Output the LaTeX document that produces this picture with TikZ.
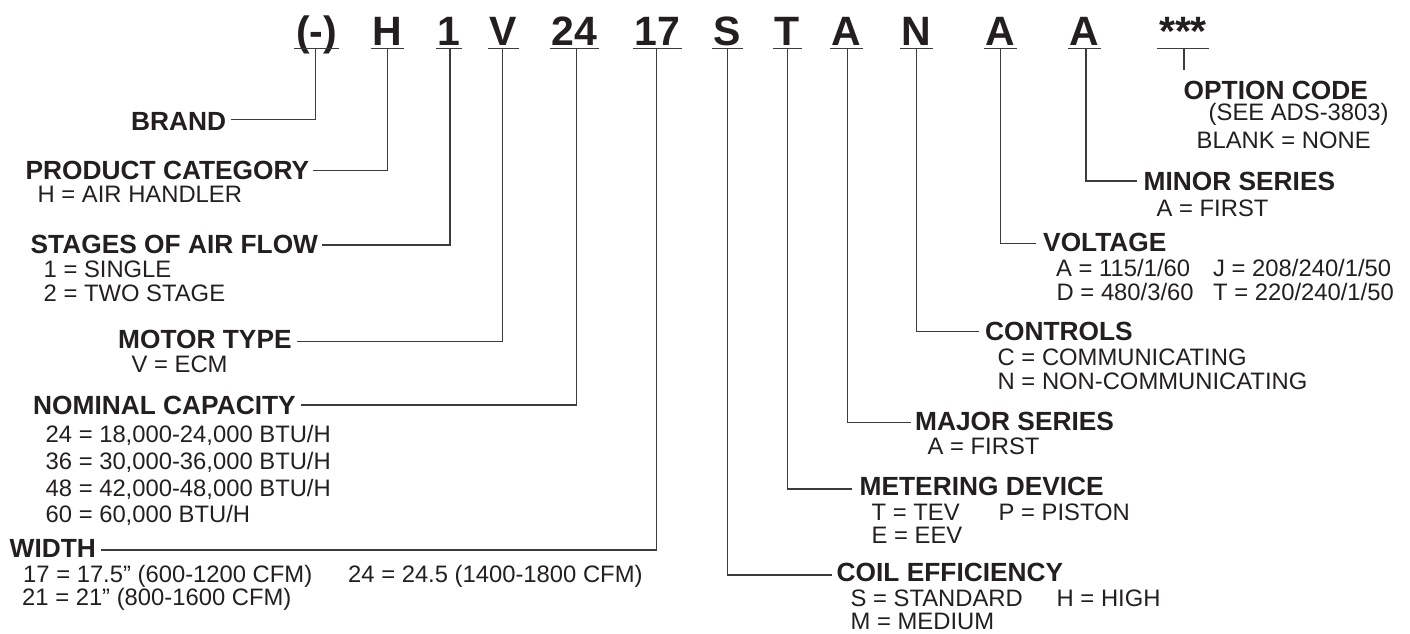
\documentclass[tikz,border=0pt]{standalone}
\usepackage{fontspec}
\setmainfont{Liberation Sans}
\definecolor{ink}{HTML}{231F20}
\definecolor{wire}{HTML}{3C3C3C}
\begin{document}
\begin{tikzpicture}[x=1pt,y=-1pt,
  code/.style={font=\fontsize{41}{41}\selectfont\bfseries, inner sep=0pt, anchor=base, text=ink},
  head/.style={font=\fontsize{26.3}{28}\selectfont\bfseries, inner sep=0pt, anchor=base west, text=ink},
  sub/.style={font=\fontsize{23.8}{26}\selectfont, inner sep=0pt, anchor=base west, text=ink},
  conn/.style={draw=wire, line width=1.2pt},
  uline/.style={draw=wire, line width=1.8pt}]
\useasboundingbox (0,0) rectangle (1410,633);

% model code
\node[code] (c0) at (316.5,45) {(-)};
\node[code] (c1) at (387.2,45) {H};
\node[code] (c2) at (449,45) {1};
\node[code] (c3) at (503.5,45) {V};
\node[code] (c4) at (574,45) {24};
\node[code] (c5) at (657.2,45) {17};
\node[code] (c6) at (727.2,45) {S};
\node[code] (c7) at (787.3,45) {T};
\node[code] (c8) at (846.3,45) {A};
\node[code] (c9) at (916.2,45) {N};
\node[code] (c10) at (1000.5,45) {A};
\node[code] (c11) at (1084.7,45) {A};
\node[code] (c12) at (1183,45) {***};
\foreach \n in {c0,c1,c2,c3,c4,c5,c6,c7,c8,c9,c10,c11,c12}
  \draw[uline] ([xshift=-1.5pt,yshift=-3.5pt]\n.base west) -- ([xshift=1.5pt,yshift=-3.5pt]\n.base east);

% headings
\node[head] (brand) at (131,130) {BRAND};
\node[head] (prod) at (25.5,179.3) {PRODUCT CATEGORY};
\node[head] (stage) at (30.5,253.3) {STAGES OF AIR FLOW};
\node[head] (motor) at (118,348.3) {MOTOR TYPE};
\node[head] (nom) at (33,414.3) {NOMINAL CAPACITY};
\node[head] (width) at (9.5,557.3) {WIDTH};
\node[head] (coil) at (836.5,581.7) {COIL EFFICIENCY};
\node[head] (meter) at (859.5,495) {METERING DEVICE};
\node[head] (major) at (915,430.7) {MAJOR SERIES};
\node[head] (ctrl) at (985,340.7) {CONTROLS};
\node[head] (volt) at (1043,251.7) {VOLTAGE};
\node[head] (minor) at (1143.5,190.7) {MINOR SERIES};
\node[head] (opt) at (1183.5,99) {OPTION CODE};

% values
\node[sub] (prodA) at (37.5,202.7) {H = AIR HANDLER};
\node[sub] (stage1) at (43.5,277.3) {1 = SINGLE};
\node[sub] (stage2) at (43.5,301.7) {2 = TWO STAGE};
\node[sub] (motorV) at (131.5,372.7) {V = ECM};
\node[sub] (nom24) at (45.5,442.7) {24 = 18,000-24,000 BTU/H};
\node[sub] (nom36) at (45.5,469.3) {36 = 30,000-36,000 BTU/H};
\node[sub] (nom48) at (45.5,496) {48 = 42,000-48,000 BTU/H};
\node[sub] (nom60) at (45.5,522.7) {60 = 60,000 BTU/H};
\node[sub] (w17) at (23,582.8) {17 = 17.5” (600-1200 CFM)};
\node[sub] (w24) at (348,582.8) {24 = 24.5 (1400-1800 CFM)};
\node[sub] (w21) at (22,605) {21 = 21” (800-1600 CFM)};
\node[sub] (coilS) at (850.5,606) {S = STANDARD};
\node[sub] (coilH) at (1056.5,606) {H = HIGH};
\node[sub] (coilM) at (850.5,629.3) {M = MEDIUM};
\node[sub] (meterT) at (871.5,520) {T = TEV};
\node[sub] (meterP) at (998.5,520) {P = PISTON};
\node[sub] (meterE) at (871.5,543.3) {E = EEV};
\node[sub] (majorA) at (927.5,454) {A = FIRST};
\node[sub] (ctrlC) at (997.5,365) {C = COMMUNICATING};
\node[sub] (ctrlN) at (997.5,389.3) {N = NON-COMMUNICATING};
\node[sub] (voltA) at (1056,276.7) {A = 115/1/60};
\node[sub] (voltJ) at (1213,276.7) {J = 208/240/1/50};
\node[sub] (voltD) at (1056.5,300.7) {D = 480/3/60};
\node[sub] (voltT) at (1213,300.7) {T = 220/240/1/50};
\node[sub] (minorA) at (1156.5,216) {A = FIRST};
\node[sub] (optSee) at (1208.5,120.5) {(SEE ADS-3803)};
\node[sub] (optBlank) at (1196.5,148.3) {BLANK = NONE};

% connectors, left side
\draw[conn] ([xshift=-0.8pt,yshift=-3.5pt]c0.base) |- ([xshift=5pt,yshift=10.7pt]brand.base east);
\draw[conn] ([yshift=-3.5pt]c1.base) |- ([xshift=3.5pt,yshift=8.6pt]prod.base east);
\draw[conn] ([xshift=1pt,yshift=-3.5pt]c2.base) |- ([xshift=4pt,yshift=8.3pt]stage.base east);
\draw[conn] ([xshift=-0.8pt,yshift=-3.5pt]c3.base) |- ([xshift=5pt,yshift=6.6pt]motor.base east);
\draw[conn] ([xshift=2.7pt,yshift=-3.5pt]c4.base) |- ([xshift=5.5pt,yshift=9.3pt]nom.base east);
\draw[conn] ([xshift=-0.5pt,yshift=-3.5pt]c5.base) |- ([xshift=5pt,yshift=7.3pt]width.base east);
% connectors, right side
\draw[conn] ([yshift=-3.5pt]c6.base) |- ([xshift=-5pt,yshift=6.7pt]coil.base west);
\draw[conn] ([xshift=0.4pt,yshift=-3.5pt]c7.base) |- ([xshift=-7.5pt,yshift=6pt]meter.base west);
\draw[conn] ([xshift=1pt,yshift=-3.5pt]c8.base) |- ([xshift=-4.5pt,yshift=8pt]major.base west);
\draw[conn] ([xshift=0.5pt,yshift=-3.5pt]c9.base) |- ([xshift=-6.2pt,yshift=9pt]ctrl.base west);
\draw[conn] ([yshift=-3.5pt]c10.base) |- ([xshift=-7pt,yshift=8.4pt]volt.base west);
\draw[conn] ([xshift=1.3pt,yshift=-3.5pt]c11.base) |- ([xshift=-6.7pt,yshift=9.7pt]minor.base west);
\coordinate (optend) at ([xshift=1pt,yshift=-25pt]c12.base);
\draw[conn] ([xshift=1pt,yshift=-3.5pt]c12.base) -- (optend);
\end{tikzpicture}
\end{document}
